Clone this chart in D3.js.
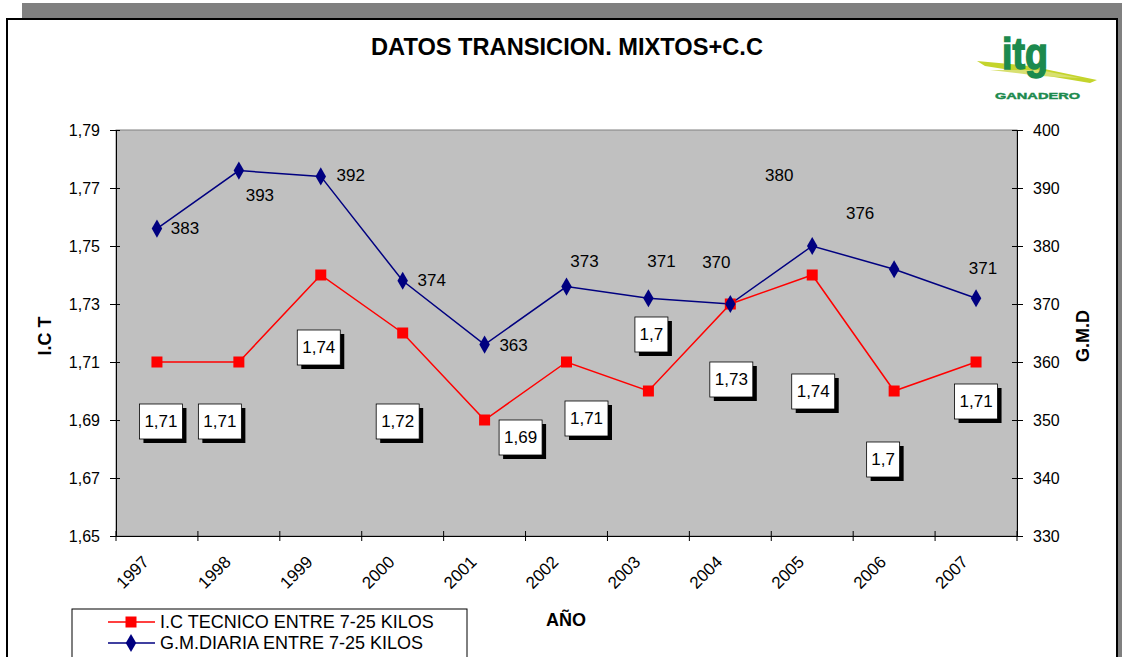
<!DOCTYPE html>
<html>
<head>
<meta charset="utf-8">
<script src="https://cdn.jsdelivr.net/npm/d3@7"></script>
<style>
  body { margin: 0; background: #fff; }
  svg { display: block; font-family: "Liberation Sans", Arial, sans-serif; }
</style>
</head>
<body>
<div id="chart"></div>
<script>
// data
const years = ['1997', '1998', '1999', '2000', '2001', '2002', '2003', '2004', '2005', '2006', '2007'];
const ictValues = [1.71, 1.71, 1.74, 1.72, 1.69, 1.71, 1.70, 1.73, 1.74, 1.70, 1.71];
const gmdValues = [383, 393, 392, 374, 363, 373, 371, 370, 380, 376, 371];
const ictTicks = [1.65, 1.67, 1.69, 1.71, 1.73, 1.75, 1.77, 1.79];
const gmdTicks = [330, 340, 350, 360, 370, 380, 390, 400];

// label placement (pixel offsets from each point), as in the original
const ictLabelOffset = [[4, 59], [-19, 59], [-2, 72], [-5, 88], [36, 17], [20, 56], [3, -57], [1, 75], [1, 116], [-11, 68], [0, 39]];
const gmdLabelOffset = [[28, -1], [21, 24], [30, -1], [29, -1], [29, 0], [18, -26], [13, -37], [-14, -42], [-33, -71], [-34, -56], [7, -30]];

const W = 1125, H = 657;
const plot = { left: 116, right: 1017, top: 130, bottom: 536 };
const fmt = v => String(v).replace('.', ',');
const FONT = '"Liberation Sans", Arial, sans-serif';

const svg = d3.select('#chart').append('svg')
  .attr('width', W)
  .attr('height', H);

// frame with shadow
svg.append('rect').attr('x', 22).attr('y', 3).attr('width', 1100).attr('height', H).attr('fill', '#808080');
svg.append('rect').attr('x', 7).attr('y', 19).attr('width', 1110).attr('height', H + 10)
  .attr('fill', '#fff').attr('stroke', '#000').attr('stroke-width', 2);

// title
svg.append('text')
  .attr('x', 567).attr('y', 55)
  .attr('text-anchor', 'middle')
  .attr('font-size', 24).attr('font-weight', 'bold')
  .attr('textLength', 392).attr('lengthAdjust', 'spacingAndGlyphs')
  .text('DATOS TRANSICION. MIXTOS+C.C');

// logo
const logo = svg.append('g');
logo.append('path')
  .attr('d', 'M977,61 L1030,66 L1097,80 L1090,83 L1030,73 L985,66 Z')
  .attr('fill', '#c4d42c');
logo.append('path')
  .attr('d', 'M990,70 L1040,70 L1080,78 L1040,76 Z')
  .attr('fill', '#d8e070');
logo.append('text')
  .attr('x', 1002).attr('y', 69)
  .attr('font-size', 44).attr('font-weight', 'bold')
  .attr('textLength', 46).attr('lengthAdjust', 'spacingAndGlyphs')
  .attr('fill', '#1c8a4e').attr('stroke', '#1c8a4e').attr('stroke-width', 1.5)
  .text('itg');
logo.append('text')
  .attr('x', 995).attr('y', 99)
  .attr('font-size', 9).attr('font-weight', 'bold')
  .attr('textLength', 85).attr('lengthAdjust', 'spacingAndGlyphs')
  .attr('fill', '#1c8a4e').attr('stroke', '#1c8a4e').attr('stroke-width', 0.4)
  .text('GANADERO');

// scales
const x = d3.scaleBand().domain(years).range([plot.left, plot.right]).padding(0);
const cx = d => x(d) + x.bandwidth() / 2;
const yL = d3.scaleLinear().domain([1.65, 1.79]).range([plot.bottom, plot.top]);
const yR = d3.scaleLinear().domain([330, 400]).range([plot.bottom, plot.top]);

// plot area
svg.append('rect')
  .attr('x', plot.left).attr('y', plot.top)
  .attr('width', plot.right - plot.left).attr('height', plot.bottom - plot.top)
  .attr('fill', '#c0c0c0').attr('stroke', '#808080').attr('stroke-width', 1);

// left axis
const axL = svg.append('g')
  .attr('transform', `translate(${plot.left},0)`)
  .call(d3.axisLeft(yL).tickValues(ictTicks).tickSize(6).tickPadding(10).tickFormat(d => fmt(d3.format('.2f')(d))));
axL.selectAll('line').attr('x2', -6).attr('x1', 4);
axL.selectAll('text').attr('font-size', 16).attr('font-family', FONT).attr('fill', '#000');

// right axis
const axR = svg.append('g')
  .attr('transform', `translate(${plot.right},0)`)
  .call(d3.axisRight(yR).tickValues(gmdTicks).tickSize(6).tickPadding(10));
axR.selectAll('line').attr('x1', -5).attr('x2', 6);
axR.selectAll('text').attr('font-size', 16).attr('font-family', FONT).attr('fill', '#000');

// bottom axis
const axB = svg.append('g')
  .attr('transform', `translate(0,${plot.bottom})`)
  .call(d3.axisBottom(x).tickSize(0).tickPadding(0));
axB.select('.domain').attr('stroke', '#000');
axB.selectAll('text')
  .attr('font-size', 17)
  .attr('font-family', FONT)
  .attr('fill', '#000')
  .attr('text-anchor', 'end')
  .attr('dy', null)
  .attr('transform', 'translate(-7,27) rotate(-45)');
axB.selectAll('.tick').attr('transform', d => `translate(${cx(d)},0)`);

// category boundary ticks
const bounds = years.map(d => x(d)).concat([plot.right]);
svg.append('g').selectAll('line')
  .data(bounds)
  .join('line')
  .attr('x1', d => d).attr('x2', d => d)
  .attr('y1', plot.bottom - 5).attr('y2', plot.bottom + 5)
  .attr('stroke', '#000');

// axis titles
svg.append('text')
  .attr('transform', 'translate(51,336) rotate(-90)')
  .attr('text-anchor', 'middle')
  .attr('font-size', 18).attr('font-weight', 'bold')
  .text('I.C T');
svg.append('text')
  .attr('transform', 'translate(1089,336) rotate(-90)')
  .attr('text-anchor', 'middle')
  .attr('font-size', 18).attr('font-weight', 'bold')
  .text('G.M.D');
svg.append('text')
  .attr('x', 566).attr('y', 626)
  .attr('text-anchor', 'middle')
  .attr('font-size', 18).attr('font-weight', 'bold')
  .text('AÑO');

// lines
const ictData = years.map((d, i) => ({ year: d, v: ictValues[i], off: ictLabelOffset[i] }));
const gmdData = years.map((d, i) => ({ year: d, v: gmdValues[i], off: gmdLabelOffset[i] }));

svg.append('path')
  .datum(ictData)
  .attr('fill', 'none').attr('stroke', '#ff0000').attr('stroke-width', 1.5)
  .attr('d', d3.line().x(d => cx(d.year)).y(d => yL(d.v)));

svg.append('path')
  .datum(gmdData)
  .attr('fill', 'none').attr('stroke', '#000080').attr('stroke-width', 1.5)
  .attr('d', d3.line().x(d => cx(d.year)).y(d => yR(d.v)));

const square = d3.symbol().type(d3.symbolSquare).size(121);
const diamond = d3.symbol().type(d3.symbolDiamond).size(95);

svg.append('g').selectAll('path')
  .data(ictData)
  .join('path')
  .attr('transform', d => `translate(${cx(d.year)},${yL(d.v)})`)
  .attr('d', square)
  .attr('fill', '#ff0000');

svg.append('g').selectAll('path')
  .data(gmdData)
  .join('path')
  .attr('transform', d => `translate(${cx(d.year)},${yR(d.v)})`)
  .attr('d', diamond)
  .attr('fill', '#000080');

// GMD labels (plain)
svg.append('g').selectAll('text')
  .data(gmdData)
  .join('text')
  .attr('x', d => cx(d.year) + d.off[0])
  .attr('y', d => yR(d.v) + d.off[1])
  .attr('text-anchor', 'middle')
  .attr('dy', '0.35em')
  .attr('font-size', 17)
  .text(d => d.v);

// ICT labels (boxed with shadow)
const boxes = svg.append('g').selectAll('g')
  .data(ictData)
  .join('g')
  .attr('transform', d => `translate(${cx(d.year) + d.off[0]},${yL(d.v) + d.off[1]})`);
const boxW = d => fmt(d.v).length > 3 ? 43 : 33;
boxes.append('rect')
  .attr('x', d => -boxW(d) / 2 + 4).attr('y', -17 + 4)
  .attr('width', boxW).attr('height', 35)
  .attr('fill', '#000');
boxes.append('rect')
  .attr('x', d => -boxW(d) / 2).attr('y', -17)
  .attr('width', boxW).attr('height', 35)
  .attr('fill', '#fff').attr('stroke', '#000').attr('stroke-width', 0.8);
boxes.append('text')
  .attr('text-anchor', 'middle')
  .attr('dy', '0.38em')
  .attr('font-size', 17)
  .text(d => fmt(d.v));

// legend
const legend = svg.append('g');
legend.append('rect')
  .attr('x', 72).attr('y', 609).attr('width', 395).attr('height', 60)
  .attr('fill', '#fff').attr('stroke', '#000').attr('stroke-width', 1);
const legendItems = [
  { name: 'I.C TECNICO ENTRE 7-25 KILOS', color: '#ff0000', sym: square },
  { name: 'G.M.DIARIA ENTRE 7-25 KILOS', color: '#000080', sym: diamond }
];
legendItems.forEach((item, i) => {
  const yy = 622 + i * 21;
  legend.append('line')
    .attr('x1', 108).attr('x2', 155).attr('y1', yy).attr('y2', yy)
    .attr('stroke', item.color).attr('stroke-width', 1.5);
  legend.append('path')
    .attr('transform', `translate(131,${yy})`)
    .attr('d', item.sym)
    .attr('fill', item.color);
  legend.append('text')
    .attr('x', 160).attr('y', yy)
    .attr('dy', '0.36em')
    .attr('font-size', 18)
    .text(item.name);
});
</script>
</body>
</html>
